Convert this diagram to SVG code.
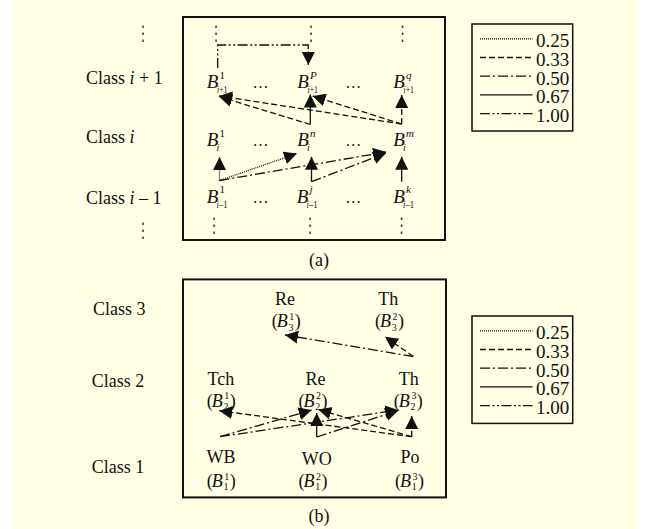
<svg xmlns="http://www.w3.org/2000/svg" width="649" height="529" viewBox="0 0 649 529">
<defs>
<style>
.t{font-family:"Liberation Serif","Times New Roman",serif;font-size:18px;fill:#111}
.bi{font-family:"Liberation Serif","Times New Roman",serif;font-size:19px;font-style:italic;fill:#111}
.bb{font-family:"Liberation Serif","Times New Roman",serif;font-size:18px;font-style:italic;fill:#111}
.sp{font-family:"Liberation Serif","Times New Roman",serif;font-size:11px;fill:#111}
.sb{font-family:"Liberation Serif","Times New Roman",serif;font-size:10px;fill:#111}
.s2{font-family:"Liberation Serif","Times New Roman",serif;font-size:10px;fill:#111}
.it{font-style:italic}
.lg{font-family:"Liberation Serif","Times New Roman",serif;font-size:19px;fill:#111}
.vd{font-family:"DejaVu Sans",sans-serif;font-size:13px;fill:#222}
.hd{font-family:"Liberation Serif","Times New Roman",serif;font-size:16px;fill:#111}
.box{fill:none;stroke:#111;stroke-width:2}
.lbox{fill:none;stroke:#111;stroke-width:1.5}
.e{fill:none;stroke:#111;stroke-width:1.3}
.d25{stroke-dasharray:1 1}
.d33{stroke-dasharray:6 3}
.d50{stroke-dasharray:10 3 2 3}
.d100{stroke-dasharray:10 2.5 2 2.5 2 2.5}
</style>
<marker id="ah" markerUnits="userSpaceOnUse" markerWidth="14" markerHeight="14" refX="13" refY="6.5" orient="auto" viewBox="0 0 14 14">
<path d="M0,0 L13,6.5 L0,13 z" fill="#111"/>
</marker>
</defs>
<rect x="0" y="0" width="649" height="529" fill="#ffffff"/>
<rect x="12" y="0" width="626" height="529" fill="#ffffe6"/>

<!-- Panel (a) -->
<rect class="box" x="183" y="17" width="262" height="223"/>
<g id="a_labels">
<text class="t" x="86" y="84">Class <tspan class="it">i</tspan> + 1</text>
<text class="t" x="86" y="143">Class <tspan class="it">i</tspan></text>
<text class="t" x="86" y="204">Class <tspan class="it">i</tspan> – 1</text>
<text class="vd" transform="translate(143,40) scale(1,1.55)" text-anchor="middle">⋮</text>
<text class="vd" transform="translate(143,237) scale(1,1.55)" text-anchor="middle">⋮</text>
<text class="vd" transform="translate(216,40) scale(1,1.55)" text-anchor="middle">⋮</text>
<text class="vd" transform="translate(311,40) scale(1,1.55)" text-anchor="middle">⋮</text>
<text class="vd" transform="translate(402.5,40) scale(1,1.55)" text-anchor="middle">⋮</text>
<text class="vd" transform="translate(214,232) scale(1,1.55)" text-anchor="middle">⋮</text>
<text class="vd" transform="translate(310,232) scale(1,1.55)" text-anchor="middle">⋮</text>
<text class="vd" transform="translate(401.5,232) scale(1,1.55)" text-anchor="middle">⋮</text>
<text class="hd" x="260.5" y="88" text-anchor="middle">…</text>
<text class="hd" x="353.3" y="88" text-anchor="middle">…</text>
<text class="hd" x="260.5" y="146" text-anchor="middle">…</text>
<text class="hd" x="353.3" y="146" text-anchor="middle">…</text>
<text class="hd" x="260.5" y="203" text-anchor="middle">…</text>
<text class="hd" x="353.3" y="203" text-anchor="middle">…</text>
<text class="t" x="319" y="266" text-anchor="middle">(a)</text>
</g>

<g id="a_Bi1_1"><text class="bi" x="206.7" y="88">B</text><text class="sp" x="219.5" y="78.5">1</text><text class="sb" x="217" y="93" textLength="10.5" lengthAdjust="spacingAndGlyphs"><tspan class="it">i</tspan>+1</text></g>
<g id="a_Bi1_P"><text class="bi" x="297.3" y="88">B</text><text class="sp it" x="310" y="78.5">P</text><text class="sb" x="307.5" y="93" textLength="10.5" lengthAdjust="spacingAndGlyphs"><tspan class="it">i</tspan>+1</text></g>
<g id="a_Bi1_q"><text class="bi" x="393.3" y="88">B</text><text class="sp it" x="406" y="78.5">q</text><text class="sb" x="403.5" y="93" textLength="10.5" lengthAdjust="spacingAndGlyphs"><tspan class="it">i</tspan>+1</text></g>

<g id="a_Bi_1"><text class="bi" x="206.7" y="146">B</text><text class="sp" x="219.5" y="136.5">1</text><text class="sb it" x="216.5" y="151">i</text></g>
<g id="a_Bi_n"><text class="bi" x="297.3" y="146">B</text><text class="sp it" x="310" y="136.5">n</text><text class="sb it" x="307" y="151">i</text></g>
<g id="a_Bi_m"><text class="bi" x="393.3" y="146">B</text><text class="sp it" x="406" y="136.5">m</text><text class="sb it" x="403" y="151">i</text></g>

<g id="a_Bim1_1"><text class="bi" x="206.7" y="202.7">B</text><text class="sp" x="219.5" y="193">1</text><text class="sb" x="216.5" y="208" textLength="11" lengthAdjust="spacingAndGlyphs"><tspan class="it">i</tspan>–1</text></g>
<g id="a_Bim1_j"><text class="bi" x="296.7" y="202.7">B</text><text class="sp it" x="309.5" y="193">j</text><text class="sb" x="306.5" y="208" textLength="11" lengthAdjust="spacingAndGlyphs"><tspan class="it">i</tspan>–1</text></g>
<g id="a_Bim1_k"><text class="bi" x="393.3" y="202.7">B</text><text class="sp it" x="406" y="193">k</text><text class="sb" x="403" y="208" textLength="11" lengthAdjust="spacingAndGlyphs"><tspan class="it">i</tspan>–1</text></g>

<g id="a_connectors">
<path class="e d100" d="M217.7,68 V45 H308.3 V65" marker-end="url(#ah)"/>
<path class="e d33" d="M310.3,124.5 L219,96.5" marker-end="url(#ah)"/>
<path class="e" d="M310.3,124.5 V94.5" marker-end="url(#ah)"/>
<path class="e d33" d="M401.7,124 L219,96" marker-end="url(#ah)"/>
<path class="e d33" d="M401.7,124 L312.5,96" marker-end="url(#ah)"/>
<path class="e d33" d="M401.7,124 V95" marker-end="url(#ah)"/>
<path class="e d25" d="M219.5,180.5 V157" marker-end="url(#ah)"/>
<path class="e d25" d="M219.5,180.5 L297,153.5" marker-end="url(#ah)"/>
<path class="e d50" d="M219.5,180.5 L386,152" marker-end="url(#ah)"/>
<path class="e" d="M311.5,181.7 V156.7" marker-end="url(#ah)"/>
<path class="e d50" d="M311.5,181.7 L386,153" marker-end="url(#ah)"/>
<path class="e" d="M401.7,181.7 V156.7" marker-end="url(#ah)"/>
</g>

<g id="legend_a">
<rect class="lbox" x="472" y="24" width="100.7" height="107"/>
<line class="e d25" x1="480" y1="38.8" x2="532.5" y2="38.8"/>
<line class="e d33" x1="480" y1="57.5" x2="532.5" y2="57.5"/>
<line class="e d50" x1="480" y1="76.2" x2="532.5" y2="76.2"/>
<line class="e" x1="480" y1="94.9" x2="532.5" y2="94.9"/>
<line class="e d100" x1="480" y1="113.6" x2="532.5" y2="113.6"/>
<text class="lg" x="536" y="47.3">0.25</text>
<text class="lg" x="536" y="66">0.33</text>
<text class="lg" x="536" y="84.7">0.50</text>
<text class="lg" x="536" y="103.4">0.67</text>
<text class="lg" x="536" y="122.1">1.00</text>
</g>

<!-- Panel (b) -->
<rect class="box" x="183" y="279.4" width="263" height="218"/>
<g id="b_labels">
<text class="t" x="93" y="315">Class 3</text>
<text class="t" x="91.7" y="386.7">Class 2</text>
<text class="t" x="91.7" y="473.3">Class 1</text>
<text class="t" x="319" y="522" text-anchor="middle">(b)</text>
</g>

<g id="b_Re3"><text class="t" x="285" y="305" text-anchor="middle">Re</text><text class="t" x="271.7" y="327.3">(</text><text class="bb" x="276.7" y="327.3">B</text><text class="s2" x="289.3" y="320">1</text><text class="s2" x="288.5" y="330.5">3</text><text class="t" x="294.7" y="327.3">)</text></g>
<g id="b_Th3"><text class="t" x="388.3" y="305" text-anchor="middle">Th</text><text class="t" x="375" y="327.3">(</text><text class="bb" x="380" y="327.3">B</text><text class="s2" x="392.6" y="320">2</text><text class="s2" x="391.8" y="330.5">3</text><text class="t" x="398" y="327.3">)</text></g>

<g id="b_Tch2"><text class="t" x="220.8" y="385" text-anchor="middle">Tch</text><text class="t" x="206.7" y="406.7">(</text><text class="bb" x="211.7" y="406.7">B</text><text class="s2" x="224.3" y="399.4">1</text><text class="s2" x="223.5" y="409.9">2</text><text class="t" x="229.7" y="406.7">)</text></g>
<g id="b_Re2"><text class="t" x="315.5" y="385" text-anchor="middle">Re</text><text class="t" x="298.5" y="406.7">(</text><text class="bb" x="303.5" y="406.7">B</text><text class="s2" x="316.1" y="399.4">2</text><text class="s2" x="315.3" y="409.9">2</text><text class="t" x="321.5" y="406.7">)</text></g>
<g id="b_Th2"><text class="t" x="408.8" y="385" text-anchor="middle">Th</text><text class="t" x="393.8" y="406.7">(</text><text class="bb" x="398.8" y="406.7">B</text><text class="s2" x="411.4" y="399.4">3</text><text class="s2" x="410.6" y="409.9">2</text><text class="t" x="416.8" y="406.7">)</text></g>

<g id="b_WB1"><text class="t" x="221" y="463.3" text-anchor="middle">WB</text><text class="t" x="206.7" y="487">(</text><text class="bb" x="211.7" y="487">B</text><text class="s2" x="224.3" y="479.7">1</text><text class="s2" x="223.5" y="490.2">1</text><text class="t" x="229.7" y="487">)</text></g>
<g id="b_WO1"><text class="t" x="316.7" y="465" text-anchor="middle">WO</text><text class="t" x="298.5" y="487">(</text><text class="bb" x="303.5" y="487">B</text><text class="s2" x="316.1" y="479.7">2</text><text class="s2" x="315.3" y="490.2">1</text><text class="t" x="321.5" y="487">)</text></g>
<g id="b_Po1"><text class="t" x="410" y="463.3" text-anchor="middle">Po</text><text class="t" x="395" y="487">(</text><text class="bb" x="400" y="487">B</text><text class="s2" x="412.6" y="479.7">3</text><text class="s2" x="411.8" y="490.2">1</text><text class="t" x="418" y="487">)</text></g>

<g id="b_connectors">
<path class="e d50" d="M413.3,356.5 L285,335" marker-end="url(#ah)"/>
<path class="e d33" d="M413.3,356.5 L385,336.7" marker-end="url(#ah)"/>
<path class="e d33" d="M411.7,436.7 L219.3,410.7" marker-end="url(#ah)"/>
<path class="e d33" d="M411.7,436.7 L318.3,409.5" marker-end="url(#ah)"/>
<path class="e d33" d="M411.7,436.7 V416" marker-end="url(#ah)"/>
<path class="e d50" d="M220,436.7 L311.7,410" marker-end="url(#ah)"/>
<path class="e d50" d="M220,436.7 L398.3,410" marker-end="url(#ah)"/>
<path class="e" d="M316.7,437 V413" marker-end="url(#ah)"/>
<path class="e d50" d="M316.7,437 L398.3,410.5" marker-end="url(#ah)"/>
</g>

<g id="legend_b">
<rect class="lbox" x="472" y="316" width="100.7" height="107.4"/>
<line class="e d25" x1="480" y1="330.8" x2="532.5" y2="330.8"/>
<line class="e d33" x1="480" y1="349.5" x2="532.5" y2="349.5"/>
<line class="e d50" x1="480" y1="368.2" x2="532.5" y2="368.2"/>
<line class="e" x1="480" y1="386.9" x2="532.5" y2="386.9"/>
<line class="e d100" x1="480" y1="405.6" x2="532.5" y2="405.6"/>
<text class="lg" x="536" y="339.3">0.25</text>
<text class="lg" x="536" y="358">0.33</text>
<text class="lg" x="536" y="376.7">0.50</text>
<text class="lg" x="536" y="395.4">0.67</text>
<text class="lg" x="536" y="414.1">1.00</text>
</g>
</svg>
